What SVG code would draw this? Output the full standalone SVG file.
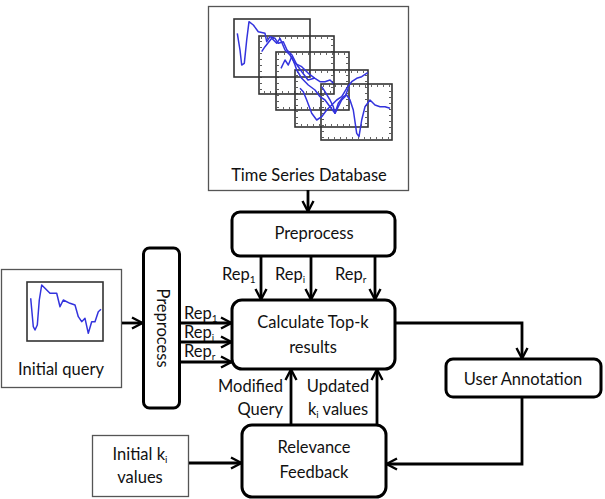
<svg xmlns="http://www.w3.org/2000/svg" width="605" height="499" viewBox="0 0 605 499">
<style>
text{font-family:Lato,"Liberation Sans",sans-serif;font-size:16.5px;fill:#111}
.c{text-anchor:middle}
.thin{fill:#fff;stroke:#555;stroke-width:1.3}
.node{fill:#fff;stroke:#000;stroke-width:3}
.frame{fill:none;stroke:#333;stroke-width:1.6}
.tick{fill:none;stroke:#333;stroke-width:1.6;stroke-dasharray:1 5}
.wave{fill:none;stroke:#3333dd;stroke-width:1.5;stroke-linejoin:round}
.conn{fill:none;stroke:#000;stroke-width:2.8}
.sub{font-size:10px}
</style>
<defs>
<marker id="arr" viewBox="0 0 14 14" refX="13" refY="7" markerWidth="14" markerHeight="14" markerUnits="userSpaceOnUse" orient="auto">
<path d="M2,1.5 L12.5,7 L2,12.5" fill="none" stroke="#000" stroke-width="2.4"/>
</marker>
</defs>

<g id="db">
<rect class="thin" x="208.5" y="6.5" width="200" height="184"/>
<rect class="frame" x="234" y="19" width="76" height="58"/>
<rect class="frame" x="259" y="36" width="75" height="58"/>
<rect class="tick" x="261" y="38" width="71" height="54"/>
<rect class="frame" x="276" y="52" width="73" height="58"/>
<rect class="tick" x="278" y="54" width="69" height="54"/>
<rect class="frame" x="295" y="70" width="73" height="57"/>
<rect class="tick" x="297" y="72" width="69" height="53"/>
<rect class="frame" x="321" y="84" width="71" height="56"/>
<rect class="tick" x="323" y="86" width="67" height="52"/>
<polyline class="wave" points="237.3,33.3 240,50 241.7,65 244.3,63.3 246.7,40 249,21.7 253.3,25 258.3,31.7 265,33.3 266.7,41.7 270,36.7 275,38.3 278.3,43.3 283.3,41.7 287,50 292,55 297,65 302,72 308,80 315,78"/>
<polyline class="wave" points="261.7,51.7 265,46.7 271.7,38.3 276.7,43.3 280,38.3 285,50 290,55 295,63.3 301.7,66.7 308.3,73.3 315,78.3 320,81.7 325,81.7 330,80 333.3,83.3"/>
<polyline class="wave" points="281,68.3 285,60 288.3,65 291.7,56.7 295,65 296.7,70 301.7,78.3 308.3,85 315,90 320,96.7 325,100 330,106.7 335,113.3 338.3,106.7 341.7,100 345,96.7 348.3,88.3"/>
<polyline class="wave" points="300,88.3 303.3,91.7 306.7,100 311.7,113.3 316.7,120 321.7,116.7 326.7,110 331.7,105 336.7,100 341.7,96.7 346.7,88.3 351.7,81.7 356.7,78.3 361.7,76.7 367.7,72.7"/>
<polyline class="wave" points="321.7,86.7 325,91.7 330,100 333.3,106.7 335,113.3 338.3,103.3 343.3,96.7 346.7,95 350,100 353.3,110 356.7,133.3 359,136.7 361.7,120 365,106.7 370,100 375,105 380,106.7 385,106.7 390,108.3"/>
<text class="c" x="309" y="181">Time Series Database</text>
</g>

<g id="preprocess-top">
<rect class="node" x="232" y="212" width="163" height="44" rx="8"/>
<text class="c" x="314" y="239">Preprocess</text>
</g>

<g id="initial-query">
<rect class="thin" x="1.5" y="269.5" width="120" height="118"/>
<rect class="frame" x="27" y="282" width="76" height="59"/>
<polyline class="wave" points="30.7,298.3 33.3,326.7 35,330 37.3,325 39.3,300 41.7,285 45,288.3 50,293.3 56.7,293.3 60,306.7 63.3,300 70,303.3 75,305 78.3,316.7 81.7,321.7 85,318.3 88.3,333.3 91.7,321.7 95,321.7 98.3,311.7 101,309.3"/>
<text class="c" x="61" y="375">Initial query</text>
</g>

<g id="preprocess-left">
<rect class="node" x="143.5" y="248" width="36" height="160" rx="6"/>
<text class="c" transform="translate(162,328) rotate(90)" x="0" y="5.5">Preprocess</text>
</g>

<g id="calculate">
<rect class="node" x="232" y="300" width="163" height="69" rx="10"/>
<text class="c" x="313" y="328">Calculate Top-k</text>
<text class="c" x="313" y="353">results</text>
</g>

<g id="user-annotation">
<rect class="node" x="446" y="359" width="155" height="38" rx="7"/>
<text class="c" x="523" y="385">User Annotation</text>
</g>

<g id="relevance">
<rect class="node" x="242" y="425" width="144" height="72" rx="10"/>
<text class="c" x="314" y="453">Relevance</text>
<text class="c" x="314" y="478">Feedback</text>
</g>

<g id="initial-k">
<rect class="thin" x="92.5" y="435.5" width="96" height="61"/>
<text class="c" x="140" y="460">Initial  k<tspan class="sub" dy="3">i</tspan></text>
<text class="c" x="140" y="483">values</text>
</g>

<g id="connectors">
<line class="conn" x1="308" y1="190" x2="308" y2="212" marker-end="url(#arr)"/>
<line class="conn" x1="261" y1="256" x2="261" y2="300" marker-end="url(#arr)"/>
<line class="conn" x1="311" y1="256" x2="311" y2="300" marker-end="url(#arr)"/>
<line class="conn" x1="375" y1="256" x2="375" y2="300" marker-end="url(#arr)"/>
<line class="conn" x1="122" y1="323" x2="143" y2="323" marker-end="url(#arr)"/>
<line class="conn" x1="180" y1="323" x2="232" y2="323" marker-end="url(#arr)"/>
<line class="conn" x1="180" y1="342" x2="232" y2="342" marker-end="url(#arr)"/>
<line class="conn" x1="180" y1="362" x2="232" y2="362" marker-end="url(#arr)"/>
<path class="conn" d="M395,323 H522 V359" marker-end="url(#arr)"/>
<path class="conn" d="M522,397 V464 H386" marker-end="url(#arr)"/>
<line class="conn" x1="291" y1="425" x2="291" y2="369" marker-end="url(#arr)"/>
<line class="conn" x1="377" y1="425" x2="377" y2="369" marker-end="url(#arr)"/>
<line class="conn" x1="189" y1="463" x2="242" y2="463" marker-end="url(#arr)"/>
<text x="222" y="280">Rep<tspan class="sub" dy="3">1</tspan></text>
<text x="275" y="280">Rep<tspan class="sub" dy="3">i</tspan></text>
<text x="335" y="280">Rep<tspan class="sub" dy="3">r</tspan></text>
<text x="184" y="319">Rep<tspan class="sub" dy="3">1</tspan></text>
<text x="184" y="338">Rep<tspan class="sub" dy="3">i</tspan></text>
<text x="184" y="357">Rep<tspan class="sub" dy="3">r</tspan></text>
<text x="283" y="392" text-anchor="end">Modified</text>
<text x="283" y="415" text-anchor="end">Query</text>
<text x="338" y="392" class="c">Updated</text>
<text x="338" y="415" class="c">k<tspan class="sub" dy="3">i</tspan><tspan dy="-3"> values</tspan></text>
</g>
</svg>
